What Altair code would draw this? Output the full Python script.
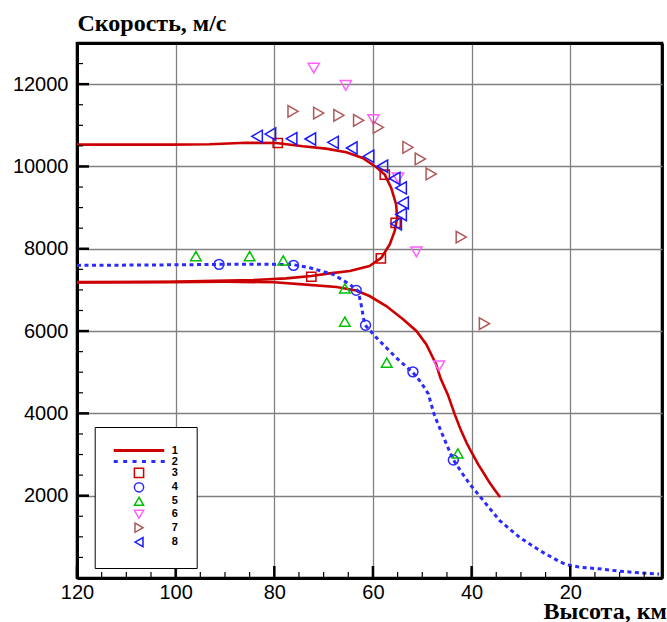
import altair as alt
import pandas as pd

# ---------------- data ----------------
# Series 1 (red solid line): skip branch and descent branch
s1a_h = [120, 101.2, 93.1, 85.7, 79.6, 74.2, 69.5, 65.4, 62.1, 59.3, 57.6, 56.3, 55.3, 55.1,
         55.6, 56.6, 58.3, 60.7, 64.7, 68.8, 72.5, 77.6, 84.3, 94.5, 101.2, 120]
s1a_v = [10530, 10531, 10540, 10575, 10570, 10490, 10434, 10345, 10206, 9981, 9803, 9479, 9076, 8751,
         8428, 8106, 7781, 7580, 7458, 7402, 7337, 7281, 7240, 7216, 7199, 7190]
s1b_h = [120, 101, 90, 80, 74.2, 67.4, 63.4, 60.7, 57.3, 53.9, 51.2, 49.2, 47.2, 46.3, 44.8,
         43.4, 42.2, 41.0, 40.0, 38.6, 37.4, 36.4, 35.3, 34.2]
s1b_v = [7180, 7190, 7200, 7185, 7135, 7070, 6985, 6852, 6609, 6287, 6003, 5680, 5195, 4850, 4450,
         3970, 3600, 3280, 3050, 2750, 2520, 2324, 2140, 1960]

# Series 2 (blue dashed line)
s2_h = [120, 100, 91.2, 80, 76.2, 72.8, 68.1, 64.7, 63.0, 62.4, 61.7, 59.3, 55.3, 51.9, 50.3,
        48.8, 47.5, 45.1, 43.8, 41.8, 40.4, 38.3, 34.3, 30.3, 26.2, 22.2, 20.8, 18.1, 14.1,
        10.0, 5.9, 2.0]
s2_v = [7596, 7610, 7621, 7621, 7615, 7538, 7378, 7136, 6973, 6650, 6165, 5840, 5355, 4992, 4760,
        4480, 3940, 3255, 2891, 2527, 2285, 1980, 1395, 990, 667, 400, 327, 262, 223,
        165, 126, 95]

# Marker series
s3_h = [79.3, 57.6, 55.4, 58.4, 72.5]
s3_v = [10570, 9803, 8630, 7766, 7320]
s4_h = [91.2, 76.1, 63.4, 61.5, 51.9, 43.7]
s4_v = [7621, 7596, 6990, 6141, 5009, 2867]
s5_h = [95.9, 85.0, 78.2, 65.7, 65.7, 57.2, 42.8]
s5_v = [7822, 7822, 7717, 7039, 6229, 5234, 3027]
s6_h = [72.0, 65.5, 59.9, 54.9, 51.2, 46.6]
s6_v = [12389, 11969, 11138, 9721, 7926, 5154]
s7_h = [76.2, 71.0, 66.9, 62.9, 58.9, 52.9, 50.4, 48.2, 42.1, 37.4]
s7_v = [11339, 11298, 11242, 11121, 10951, 10466, 10183, 9818, 8283, 6180]
s8_h = [83.5, 80.8, 76.5, 72.7, 68.1, 64.3, 60.9, 58.1, 55.6, 54.3, 53.9, 54.3, 55.3]
s8_v = [10732, 10788, 10676, 10667, 10587, 10449, 10247, 10005, 9707, 9479, 9115, 8833, 8606]

series_names = ["1", "2", "3", "4", "5", "6", "7", "8"]
x_range = [120, 1.4]
y_range = [0, 13000]
x_major = [20, 40, 60, 80, 100, 120]
x_minor = list(range(5, 121, 5))
y_major = [2000, 4000, 6000, 8000, 10000, 12000]
y_minor = list(range(500, 13001, 500))

# ---------------- styles ----------------
RED = "#CC0000"
BLUE = "#2B2BFF"
colors = [RED, BLUE, RED, BLUE, "#00C000", "#FF60FF", "#B05858", "#1A1AFF"]

W, H = 585, 535
S = (85 ** 0.5) / 2.0  # legend path scale


def rect(x0, x1, hh=0.15):
    return f"M{x0:.3f},{-hh}L{x1:.3f},{-hh}L{x1:.3f},{hh}L{x0:.3f},{hh}Z"


half = 24.5 / S
solid_path = rect(-half, half)
dash_len = 2.5 / S
dash_path = " ".join(rect(-half + k * 9.4 / S, -half + k * 9.4 / S + dash_len) for k in range(6))
shapes = [solid_path, dash_path, "square", "circle", "triangle-up", "triangle-down",
          "triangle-right", "triangle-left"]
marker_sizes = [85, 150, 120, 120, 120, 110]

# ---------------- tables ----------------
line1 = pd.DataFrame({
    "h": s1a_h + s1b_h,
    "v": s1a_v + s1b_v,
    "branch": ["a"] * len(s1a_h) + ["b"] * len(s1b_h),
    "ord": list(range(len(s1a_h))) + list(range(len(s1b_h))),
})
line2 = pd.DataFrame({"h": s2_h, "v": s2_v, "ord": list(range(len(s2_h)))})

pts = []
for name, hs, vs in [("3", s3_h, s3_v), ("4", s4_h, s4_v), ("5", s5_h, s5_v),
                     ("6", s6_h, s6_v), ("7", s7_h, s7_v), ("8", s8_h, s8_v)]:
    for h, v in zip(hs, vs):
        pts.append({"h": h, "v": v, "series": name})
points = pd.DataFrame(pts)

xt_major = pd.DataFrame({"h": [float(t) for t in x_major]})
xt_minor = pd.DataFrame({"h": [float(t) for t in x_minor]})
yt_major = pd.DataFrame({"v": [float(t) for t in y_major]})
yt_minor = pd.DataFrame({"v": [float(t) for t in y_minor]})

xscale = alt.Scale(domain=x_range, nice=False, zero=False)
yscale = alt.Scale(domain=y_range, nice=False, zero=False)

LABEL_FONT = "Liberation Sans"
TITLE_FONT = "Liberation Serif"

# edge grid lines (at the axis limits) are drawn black and heavy to form the frame
X_EDGE = f"datum.value === {x_range[0]} || datum.value === {x_range[1]}"
Y_EDGE = f"datum.value === {y_range[1]}"


def cond(test, a, b):
    return {"condition": {"test": test, "value": a}, "value": b}


x_axis = alt.Axis(values=[x_range[1]] + x_major, orient="bottom",
                  domain=True, domainColor="black", domainWidth=2.8, ticks=False,
                  labelExpr=f"datum.value === {x_range[1]} ? '' : datum.label",
                  labelFont=LABEL_FONT, labelFontSize=20, labelColor="black",
                  labelPadding=4, labelFlush=False, labelOverlap=False, format="d",
                  grid=True, gridColor=cond(X_EDGE, "black", "#808080"),
                  gridWidth=cond(X_EDGE, 2.8, 1.3),
                  title="Высота, км", titleFont=TITLE_FONT, titleFontSize=24,
                  titleFontWeight="bold", titleColor="black", titleAlign="left",
                  titleAnchor="start", titleX=466, titleY=40, titleBaseline="alphabetic")
y_axis = alt.Axis(values=y_major + [y_range[1]], orient="left",
                  domain=True, domainColor="black", domainWidth=2.8, ticks=False,
                  labelExpr=f"datum.value === {y_range[1]} ? '' : datum.label",
                  labelFont=LABEL_FONT, labelFontSize=20, labelColor="black",
                  labelPadding=9, labelFlush=False, labelOverlap=False, format="d",
                  grid=True, gridColor=cond(Y_EDGE, "black", "#808080"),
                  gridWidth=cond(Y_EDGE, 2.8, 1.3),
                  title="Скорость, м/с", titleFont=TITLE_FONT, titleFontSize=24,
                  titleFontWeight="bold", titleColor="black", titleAngle=0,
                  titleAlign="left", titleAnchor="start", titleX=0, titleY=-13,
                  titleBaseline="alphabetic")

X = alt.X("h:Q", scale=xscale, axis=x_axis)
Y = alt.Y("v:Q", scale=yscale, axis=y_axis)

red_line = alt.Chart(line1).mark_line(color=RED, strokeWidth=2.6).encode(
    x=X, y=Y, detail="branch:N", order="ord:Q",
)

blue_line = alt.Chart(line2).mark_line(color=BLUE, strokeWidth=3, strokeDash=[4, 3.5]).encode(
    x=X, y=Y, order="ord:Q",
)

legend = alt.Legend(orient="none", legendX=17.7, legendY=384, title=None, padding=18,
                    strokeColor="black", fillColor="white", symbolSize=85,
                    symbolStrokeWidth=1.5, symbolOpacity=1, symbolOffset=20.8,
                    labelOffset=27.2, labelFont=LABEL_FONT, labelFontSize=11,
                    labelFontWeight="bold", labelColor="black",
                    rowPadding=alt.ExprRef(expr="-2.6"))

markers = alt.Chart(points).transform_calculate(sz="datum.series").mark_point(
    filled=False, strokeWidth=1.5, opacity=1
).encode(
    x=X, y=Y,
    color=alt.Color("series:N", scale=alt.Scale(domain=series_names, range=colors), legend=legend),
    shape=alt.Shape("series:N", scale=alt.Scale(domain=series_names, range=shapes), legend=legend),
    size=alt.Size("sz:N", scale=alt.Scale(domain=series_names[2:], range=marker_sizes), legend=None),
)

# inward tick marks (short line symbols anchored on the bottom and left edges)
UP = "M0,0L0,-1"
RIGHT = "M0,0L1,0"
xtick_major = alt.Chart(xt_major).mark_point(
    shape=UP, size=576, filled=False, color="black", strokeWidth=2.5, opacity=1
).encode(x=X, y=alt.value(H))
xtick_minor = alt.Chart(xt_minor).mark_point(
    shape=UP, size=144, filled=False, color="black", strokeWidth=1.2, opacity=1
).encode(x=X, y=alt.value(H))
ytick_major = alt.Chart(yt_major).mark_point(
    shape=RIGHT, size=576, filled=False, color="black", strokeWidth=2.5, opacity=1
).encode(y=Y, x=alt.value(0))
ytick_minor = alt.Chart(yt_minor).mark_point(
    shape=RIGHT, size=144, filled=False, color="black", strokeWidth=1.2, opacity=1
).encode(y=Y, x=alt.value(0))

chart = alt.layer(red_line, blue_line, markers, xtick_major, xtick_minor,
                  ytick_major, ytick_minor).properties(
    width=W, height=H,
    background="white",
    autosize=alt.AutoSizeParams(type="none"),
    padding={"left": 77, "top": 43, "right": 5, "bottom": 44},
).configure_view(stroke="black", strokeWidth=2.6)

chart.save("out.html", embed_options={"renderer": "svg", "actions": False})
